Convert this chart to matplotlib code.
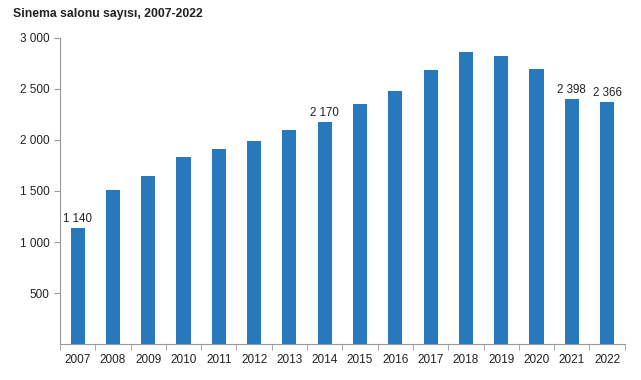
import numpy as np
import matplotlib.pyplot as plt

plt.rcParams["font.family"] = ["Liberation Sans", "DejaVu Sans"]

years = [str(y) for y in range(2007, 2023)]
counts = [1140, 1507, 1644, 1830, 1911, 1992, 2100, 2170,
          2354, 2478, 2687, 2860, 2824, 2697, 2398, 2366]
labelled = ["2007", "2014", "2021", "2022"]

fig = plt.figure(figsize=(6.41, 3.80), dpi=100)
ax = fig.add_axes([0.0936, 0.094, 0.881, 0.807])

x = np.arange(len(years))
ax.bar(x, counts, width=0.4, color="#2878BD")

# value labels only on selected years, space as thousands separator
for xi, yr, v in zip(x, years, counts):
    if yr in labelled:
        ax.text(xi, v + 30, f"{v:,}".replace(",", " "), ha="center", va="bottom",
                fontsize=8.3, color="#222222")

ax.set_xlim(-0.5, len(years) - 0.5)
ax.set_ylim(0, 3000)
ax.set_yticks([500, 1000, 1500, 2000, 2500, 3000])
ax.set_yticklabels([f"{v:,}".replace(",", " ") for v in ax.get_yticks()])
ax.set_xticks(x)
ax.set_xticklabels(years)
ax.tick_params(axis="x", length=0, labelsize=8.5, pad=7, colors="#222222")
ax.set_xticks(np.arange(-0.5, len(years)), minor=True)
ax.tick_params(axis="x", which="minor", length=4, color="#999999")
ax.tick_params(axis="y", length=4, color="#999999", labelsize=8.5, labelcolor="#222222")

for s in ["top", "right"]:
    ax.spines[s].set_visible(False)
for s in ["left", "bottom"]:
    ax.spines[s].set_color("#999999")

fig.text(13 / 641, 1 - 14 / 380, "Sinema salonu sayısı, 2007-2022", fontsize=8.8,
         fontweight="bold", color="#222222", va="center", ha="left")

fig.savefig("out.png", dpi=100)
